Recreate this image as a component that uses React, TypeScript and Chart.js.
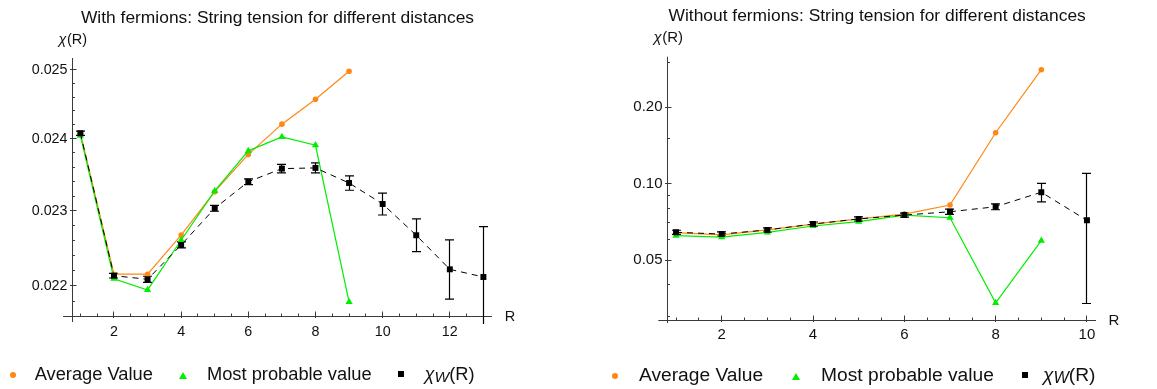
import React, { useEffect, useRef } from 'react';
import { Chart, registerables } from 'chart.js';

Chart.register(...registerables);

const FONT = '"Liberation Sans", Arial, Helvetica, sans-serif';
const ORANGE = 'rgb(255,135,20)';
const GREEN = 'rgb(0,238,0)';
const AXIS_COLOR = '#3a3a3a';

// ---------- Left panel: with fermions ----------
const leftTitle = 'With fermions: String tension for different distances';
const leftR = [1, 2, 3, 4, 5, 6, 7, 8, 9, 10, 11, 12, 13];
const leftAverage = [0.02408, 0.02215, 0.02215, 0.02267, 0.02326, 0.02378, 0.02421, 0.02457, 0.02498];
const leftMostProbable = [0.024045, 0.02209, 0.021944, 0.0226, 0.02327, 0.02383, 0.024027, 0.023909, 0.02179];
const leftChiW = [0.02408, 0.02213, 0.022083, 0.022537, 0.023032, 0.023398, 0.02358, 0.02359, 0.02338, 0.023091, 0.022667, 0.022214, 0.022113];
const leftChiWErr = [0.00003, 0.00003, 0.00004, 0.00004, 0.00004, 0.00004, 0.00006, 0.00007, 0.0001, 0.00015, 0.00022, 0.00039, 0.00067];
const leftYMajor = [0.022, 0.023, 0.024, 0.025];
const leftYMajorLabels = ['0.022', '0.023', '0.024', '0.025'];
const leftYMinor = [0.0216, 0.0218, 0.0222, 0.0224, 0.0226, 0.0228, 0.0232, 0.0234, 0.0236, 0.0238, 0.0242, 0.0244, 0.0246, 0.0248];
const leftXMajor = [2, 4, 6, 8, 10, 12];
const leftXMajorLabels = ['2', '4', '6', '8', '10', '12'];
const leftXMinor = [1, 1.5, 2.5, 3, 3.5, 4.5, 5, 5.5, 6.5, 7, 7.5, 8.5, 9, 9.5, 10.5, 11, 11.5, 12.5, 13];

// ---------- Right panel: without fermions ----------
const rightTitle = 'Without fermions: String tension for different distances';
const rightR = [1, 2, 3, 4, 5, 6, 7, 8, 9, 10];
const rightAverage = [0.0641, 0.0628, 0.0657, 0.0693, 0.0726, 0.0759, 0.0824, 0.1588, 0.2814];
const rightMostProbable = [0.0624, 0.0615, 0.0643, 0.0681, 0.0708, 0.0752, 0.0734, 0.0339, 0.0596];
const rightChiW = [0.0643, 0.0633, 0.0657, 0.0693, 0.0726, 0.0752, 0.0775, 0.0811, 0.0925, 0.0717];
const rightChiWErr = [0.0012, 0.0012, 0.0013, 0.0013, 0.0014, 0.0014, 0.0018, 0.0022, 0.0078, 0.038];
const rightYMajor = [0.05, 0.1, 0.2];
const rightYMajorLabels = ['0.05', '0.10', '0.20'];
const rightYMinor = [0.03, 0.04, 0.06, 0.07, 0.08, 0.09, 0.15, 0.3];
const rightXMajor = [2, 4, 6, 8, 10];
const rightXMajorLabels = ['2', '4', '6', '8', '10'];
const rightXMinor = [1, 1.5, 2.5, 3, 3.5, 4.5, 5, 5.5, 6.5, 7, 7.5, 8.5, 9, 9.5];

const legendLabels = ['Average Value', 'Most probable value'];

interface Spec {
  title: string;
  r: number[];
  avg: number[];
  mp: number[];
  chi: number[];
  chiErr: number[];
  xMin: number;
  xMax: number;
  yMin: number;
  yMax: number;
  padding: { left: number; right: number; top: number; bottom: number };
  yAxisAt: number;
  xAxisAt: number;
  yMajor: number[];
  yMajorLabels: string[];
  yMinor: number[];
  xMajor: number[];
  xMajorLabels: string[];
  xMinor: number[];
  tickFont: number;
  titleFont: number;
  labelFont: number;
  xLabelDy: number;
}

const leftSpec: Spec = {
  title: leftTitle,
  r: leftR,
  avg: leftAverage,
  mp: leftMostProbable,
  chi: leftChiW,
  chiErr: leftChiWErr,
  xMin: 0.482,
  xMax: 13.256,
  yMin: 0.0215055,
  yMax: 0.025178,
  padding: { left: 63, right: 86, top: 58, bottom: 65 },
  yAxisAt: 0.75,
  xAxisAt: 0.0216,
  yMajor: leftYMajor,
  yMajorLabels: leftYMajorLabels,
  yMinor: leftYMinor,
  xMajor: leftXMajor,
  xMajorLabels: leftXMajorLabels,
  xMinor: leftXMinor,
  tickFont: 14.3,
  titleFont: 17.4,
  labelFont: 14.5,
  xLabelDy: 16,
};

const rightSpec: Spec = {
  title: rightTitle,
  r: rightR,
  avg: rightAverage,
  mp: rightMostProbable,
  chi: rightChiW,
  chiErr: rightChiWErr,
  xMin: 0.6115,
  xMax: 10.198,
  yMin: 0.02772,
  yMax: 0.3166,
  padding: { left: 80.3, right: 61, top: 56.7, bottom: 64 },
  yAxisAt: 0.81,
  xAxisAt: 0.029,
  yMajor: rightYMajor,
  yMajorLabels: rightYMajorLabels,
  yMinor: rightYMinor,
  xMajor: rightXMajor,
  xMajorLabels: rightXMajorLabels,
  xMinor: rightXMinor,
  tickFont: 15,
  titleFont: 17.4,
  labelFont: 15,
  xLabelDy: 14,
};

function snap(v: number) {
  return Math.round(v - 0.5) + 0.5;
}

function axesPlugin(spec: Spec) {
  return {
    id: 'mmaAxes',
    beforeDatasetsDraw(chart: any) {
      const { ctx, chartArea, scales } = chart;
      const xs = scales.x;
      const ys = scales.y;
      const ax = snap(xs.getPixelForValue(spec.yAxisAt));
      const ay = snap(ys.getPixelForValue(spec.xAxisAt));
      ctx.save();
      ctx.strokeStyle = AXIS_COLOR;
      ctx.lineWidth = 1;
      ctx.beginPath();
      ctx.moveTo(chartArea.left, ay);
      ctx.lineTo(chartArea.right, ay);
      ctx.moveTo(ax, chartArea.top);
      ctx.lineTo(ax, chartArea.bottom - 2);
      spec.yMajor.forEach((v) => {
        const py = snap(ys.getPixelForValue(v));
        ctx.moveTo(ax - 2.5, py);
        ctx.lineTo(ax + 4, py);
      });
      spec.yMinor.forEach((v) => {
        const py = snap(ys.getPixelForValue(v));
        ctx.moveTo(ax, py);
        ctx.lineTo(ax + 2.5, py);
      });
      spec.xMajor.forEach((v) => {
        const px = snap(xs.getPixelForValue(v));
        ctx.moveTo(px, ay + 1.5);
        ctx.lineTo(px, ay - 5);
      });
      spec.xMinor.forEach((v) => {
        const px = snap(xs.getPixelForValue(v));
        ctx.moveTo(px, ay);
        ctx.lineTo(px, ay - 3);
      });
      ctx.stroke();

      ctx.fillStyle = '#111';
      ctx.font = `${spec.tickFont}px ${FONT}`;
      ctx.textAlign = 'right';
      ctx.textBaseline = 'middle';
      spec.yMajor.forEach((v, i) => {
        ctx.fillText(spec.yMajorLabels[i], ax - 5, ys.getPixelForValue(v));
      });
      ctx.textAlign = 'center';
      spec.xMajor.forEach((v, i) => {
        ctx.fillText(spec.xMajorLabels[i], xs.getPixelForValue(v), ay + spec.xLabelDy);
      });

      // axis labels
      ctx.font = `${spec.labelFont}px ${FONT}`;
      ctx.textAlign = 'center';
      ctx.fillText('R', chartArea.right + 18, ay);
      ctx.textAlign = 'left';
      const lx = ax - 14;
      const ly = chartArea.top - 18.5;
      ctx.font = `italic ${spec.labelFont}px ${FONT}`;
      ctx.fillText('χ', lx, ly);
      const w = ctx.measureText('χ').width;
      ctx.font = `${spec.labelFont}px ${FONT}`;
      ctx.fillText('(R)', lx + w + 0.5, ly);

      // title
      ctx.font = `${spec.titleFont}px ${FONT}`;
      ctx.textAlign = 'center';
      ctx.fillText(spec.title, (chartArea.left + chartArea.right) / 2, chartArea.top - 40);

      // error bars
      ctx.beginPath();
      ctx.rect(chartArea.left, chartArea.top, chartArea.right - chartArea.left, chartArea.bottom - chartArea.top);
      ctx.clip();
      ctx.strokeStyle = '#000';
      ctx.lineWidth = 1.2;
      ctx.beginPath();
      spec.chi.forEach((v, i) => {
        const e = spec.chiErr[i];
        const px = snap(xs.getPixelForValue(spec.r[i]));
        const top = ys.getPixelForValue(v + e);
        const bot = ys.getPixelForValue(v - e);
        ctx.moveTo(px, top);
        ctx.lineTo(px, bot);
        ctx.moveTo(px - 4.5, top);
        ctx.lineTo(px + 4.5, top);
        ctx.moveTo(px - 4.5, bot);
        ctx.lineTo(px + 4.5, bot);
      });
      ctx.stroke();
      ctx.restore();
    },
  };
}

function Panel({ spec, left, width }: { spec: Spec; left: number; width: number }) {
  const ref = useRef<HTMLCanvasElement | null>(null);
  useEffect(() => {
    if (!ref.current) return;
    const avgData = spec.avg.map((y, i) => ({ x: spec.r[i], y }));
    const mpData = spec.mp.map((y, i) => ({ x: spec.r[i], y }));
    const chiData = spec.chi.map((y, i) => ({ x: spec.r[i], y }));
    const chart = new Chart(ref.current, {
      type: 'line',
      data: {
        datasets: [
          {
            label: 'chiW',
            data: chiData,
            borderColor: '#000',
            borderWidth: 1,
            borderDash: [6, 5],
            pointStyle: 'rect',
            pointRadius: 4.2,
            pointBackgroundColor: '#000',
            pointBorderWidth: 0,
            order: 1,
          },
          {
            label: legendLabels[1],
            data: mpData,
            borderColor: GREEN,
            borderWidth: 1.2,
            pointStyle: 'triangle',
            pointRadius: 4.2,
            pointBackgroundColor: GREEN,
            pointBorderWidth: 0,
            order: 2,
          },
          {
            label: legendLabels[0],
            data: avgData,
            borderColor: ORANGE,
            borderWidth: 1.2,
            pointStyle: 'circle',
            pointRadius: 2.8,
            pointBackgroundColor: ORANGE,
            pointBorderWidth: 0,
            order: 3,
          },
        ],
      },
      options: {
        responsive: false,
        animation: false,
        devicePixelRatio: 1,
        events: [],
        layout: { padding: spec.padding },
        elements: { line: { tension: 0 } },
        scales: {
          x: { type: 'linear', min: spec.xMin, max: spec.xMax, display: false },
          y: { type: 'logarithmic', min: spec.yMin, max: spec.yMax, display: false, bounds: 'data' },
        },
        plugins: {
          legend: { display: false },
          title: { display: false },
          tooltip: { enabled: false },
        },
      } as any,
      plugins: [axesPlugin(spec)],
    });
    return () => chart.destroy();
  }, [spec]);
  return (
    <canvas
      ref={ref}
      width={width}
      height={389}
      style={{ position: 'absolute', left, top: 0, width, height: 389 }}
    />
  );
}

function Legend({ left, top, fontSize, gaps }: { left: number; top: number; fontSize: number; gaps: number[] }) {
  const item: React.CSSProperties = { display: 'flex', alignItems: 'center' };
  return (
    <div
      style={{
        position: 'absolute',
        left,
        top,
        display: 'flex',
        alignItems: 'center',
        fontFamily: FONT,
        fontSize,
        lineHeight: '22px',
        color: '#111',
        whiteSpace: 'nowrap',
      }}
    >
      <div style={item}>
        <span style={{ display: 'inline-block', width: 6, height: 6, borderRadius: 3, background: ORANGE, marginRight: gaps[0], position: 'relative', top: 1 }} />
        <span>{legendLabels[0]}</span>
      </div>
      <div style={{ ...item, marginLeft: gaps[1] }}>
        <span
          style={{
            display: 'inline-block',
            width: 0,
            height: 0,
            borderLeft: '4px solid transparent',
            borderRight: '4px solid transparent',
            borderBottom: `7px solid ${GREEN}`,
            marginRight: gaps[2],
            position: 'relative',
            top: 1,
          }}
        />
        <span>{legendLabels[1]}</span>
      </div>
      <div style={{ ...item, marginLeft: gaps[3] }}>
        <span style={{ display: 'inline-block', width: 6, height: 6, background: '#000', marginRight: gaps[4], position: 'relative', top: 0 }} />
        <span>
          <span style={{ fontStyle: 'italic' }}>χ</span>
          <span style={{ fontStyle: 'italic', fontSize: '0.85em', position: 'relative', top: '0.15em' }}>W</span>
          (R)
        </span>
      </div>
    </div>
  );
}

export default function App() {
  return (
    <div
      style={{
        position: 'fixed',
        left: 0,
        top: 0,
        width: 1157,
        height: 389,
        background: '#fff',
        overflow: 'hidden',
      }}
    >
      <Panel spec={leftSpec} left={0} width={578} />
      <Panel spec={rightSpec} left={578} width={579} />
      <Legend left={9.7} top={362.7} fontSize={18.3} gaps={[19, 26, 20, 26, 21]} />
      <Legend left={612} top={364} fontSize={19.2} gaps={[21, 28.5, 21.5, 28, 15]} />
    </div>
  );
}
